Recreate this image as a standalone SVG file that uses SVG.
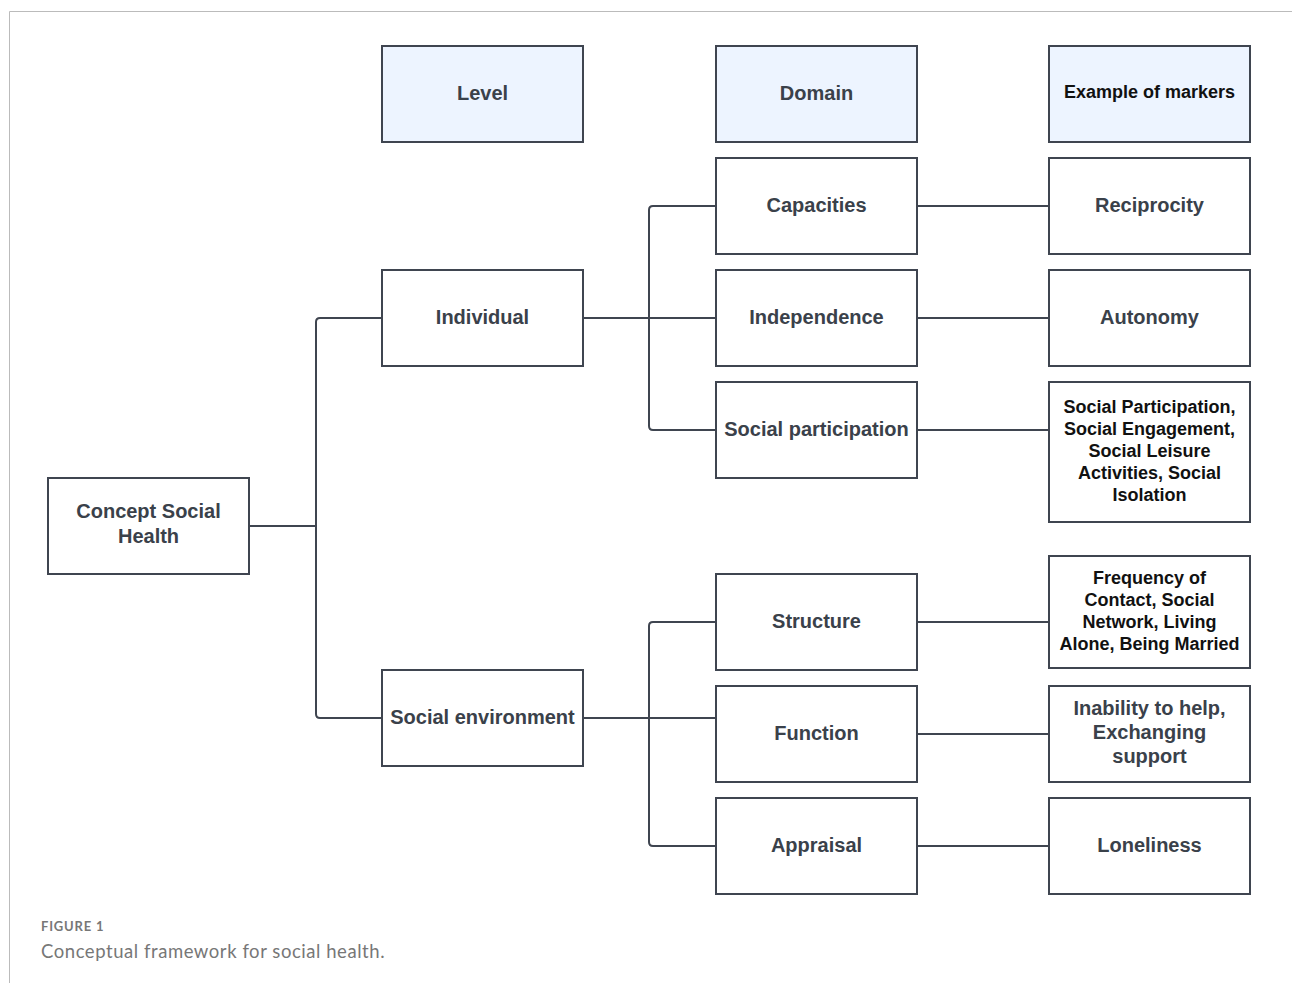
<svg xmlns="http://www.w3.org/2000/svg" width="1292" height="983" viewBox="0 0 1292 983">
<style>
.box{fill:#ffffff;stroke:#3f4550;stroke-width:2}
.hdr{fill:#edf4ff;stroke:#3f4550;stroke-width:2}
.conn{fill:none;stroke:#3f4550;stroke-width:2}
.t{font-family:"Liberation Sans",Arial,sans-serif;font-weight:bold;font-size:20px;fill:#3a414a;text-anchor:middle}
.m{font-family:"Liberation Sans",Arial,sans-serif;font-weight:bold;font-size:18px;fill:#111111;text-anchor:middle}
.mg{font-family:"Liberation Sans",Arial,sans-serif;font-weight:bold;font-size:20px;fill:#3a414a;text-anchor:middle}
</style>
<rect width="1292" height="983" fill="#ffffff"/>
<path d="M9.5 983 V11.5 H1292" fill="none" stroke="#bbbbbb" stroke-width="1"/>
<g id="connectors">
<path class="conn" d="M249 526 H316 M316 526 V322 Q316 318 320 318 H382 M316 526 V714 Q316 718 320 718 H382"/>
<path class="conn" d="M583 318 H716 M649 318 V210 Q649 206 653 206 H716 M649 318 V426 Q649 430 653 430 H716"/>
<path class="conn" d="M583 718 H716 M649 718 V626 Q649 622 653 622 H716 M649 718 V842 Q649 846 653 846 H716"/>
<path class="conn" d="M917 206 H1049 M917 318 H1049 M917 430 H1049 M917 622 H1049 M917 734 H1049 M917 846 H1049"/>
</g>
<g id="hdr-level"><rect class="hdr" x="382" y="46" width="201" height="96"/><text class="t" x="482.5" y="100">Level</text></g>
<g id="hdr-domain"><rect class="hdr" x="716" y="46" width="201" height="96"/><text class="t" x="816.5" y="100">Domain</text></g>
<g id="hdr-markers"><rect class="hdr" x="1049" y="46" width="201" height="96"/><text class="m" x="1149.5" y="98">Example of markers</text></g>
<g id="concept"><rect class="box" x="48" y="478" width="201" height="96"/><text class="t" x="148.5" y="518">Concept Social</text><text class="t" x="148.5" y="543">Health</text></g>
<g id="individual"><rect class="box" x="382" y="270" width="201" height="96"/><text class="t" x="482.5" y="324">Individual</text></g>
<g id="social-environment"><rect class="box" x="382" y="670" width="201" height="96"/><text class="t" x="482.5" y="724">Social environment</text></g>
<g id="capacities"><rect class="box" x="716" y="158" width="201" height="96"/><text class="t" x="816.5" y="212">Capacities</text></g>
<g id="independence"><rect class="box" x="716" y="270" width="201" height="96"/><text class="t" x="816.5" y="324">Independence</text></g>
<g id="social-participation"><rect class="box" x="716" y="382" width="201" height="96"/><text class="t" x="816.5" y="436">Social participation</text></g>
<g id="structure"><rect class="box" x="716" y="574" width="201" height="96"/><text class="t" x="816.5" y="628">Structure</text></g>
<g id="function"><rect class="box" x="716" y="686" width="201" height="96"/><text class="t" x="816.5" y="740">Function</text></g>
<g id="appraisal"><rect class="box" x="716" y="798" width="201" height="96"/><text class="t" x="816.5" y="852">Appraisal</text></g>
<g id="reciprocity"><rect class="box" x="1049" y="158" width="201" height="96"/><text class="mg" x="1149.5" y="212">Reciprocity</text></g>
<g id="autonomy"><rect class="box" x="1049" y="270" width="201" height="96"/><text class="mg" x="1149.5" y="324">Autonomy</text></g>
<g id="participation-markers"><rect class="box" x="1049" y="382" width="201" height="140"/>
<text class="m" x="1149.5" y="413">Social Participation,</text>
<text class="m" x="1149.5" y="435">Social Engagement,</text>
<text class="m" x="1149.5" y="457">Social Leisure</text>
<text class="m" x="1149.5" y="479">Activities, Social</text>
<text class="m" x="1149.5" y="501">Isolation</text></g>
<g id="structure-markers"><rect class="box" x="1049" y="556" width="201" height="112"/>
<text class="m" x="1149.5" y="584">Frequency of</text>
<text class="m" x="1149.5" y="606">Contact, Social</text>
<text class="m" x="1149.5" y="628">Network, Living</text>
<text class="m" x="1149.5" y="650">Alone, Being Married</text></g>
<g id="function-markers"><rect class="box" x="1049" y="686" width="201" height="96"/>
<text class="mg" x="1149.5" y="715">Inability to help,</text>
<text class="mg" x="1149.5" y="739">Exchanging</text>
<text class="mg" x="1149.5" y="763">support</text></g>
<g id="loneliness"><rect class="box" x="1049" y="798" width="201" height="96"/><text class="mg" x="1149.5" y="852">Loneliness</text></g>
<text x="41" y="931" font-family="Lato,'Liberation Sans',sans-serif" font-size="13" font-weight="bold" letter-spacing="0.8" fill="#777777">FIGURE 1</text>
<text x="41" y="958" font-family="Lato,'Liberation Sans',sans-serif" font-size="18.5" letter-spacing="0.55" fill="#777777">Conceptual framework for social health.</text>
</svg>
